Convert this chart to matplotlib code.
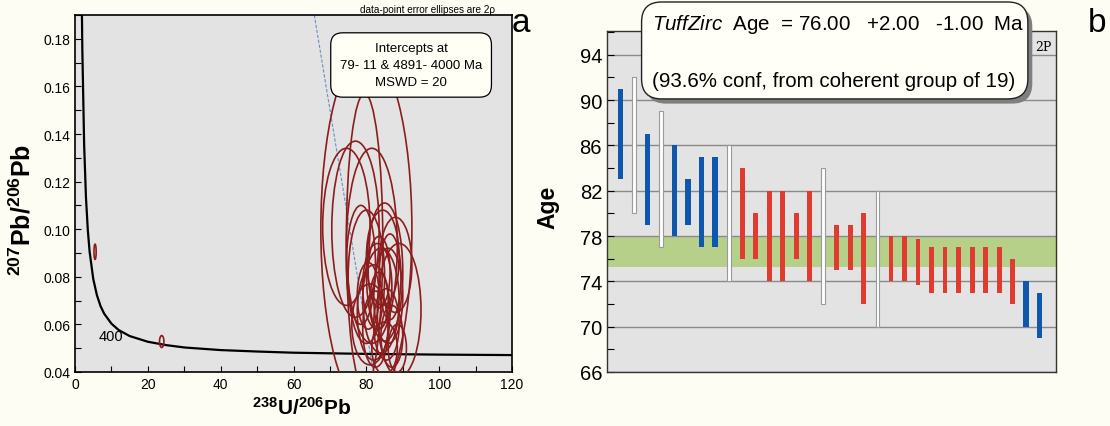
import numpy as np
import matplotlib
matplotlib.use('Agg')
from matplotlib import pyplot as plt
from matplotlib.patches import Ellipse, FancyBboxPatch
from matplotlib.ticker import MultipleLocator, FormatStrFormatter

plt.rcParams['font.family'] = ['Liberation Sans', 'DejaVu Sans']
plt.rcParams['mathtext.fontset'] = 'custom'
plt.rcParams['mathtext.rm'] = 'Liberation Sans'
plt.rcParams['mathtext.it'] = 'Liberation Sans:italic'
plt.rcParams['mathtext.bf'] = 'Liberation Sans:bold'

# ---- panel a: Tera-Wasserburg data ----
conc_x = [1.7, 1.8, 2, 2.5, 3, 3.5, 4, 5, 6, 7, 8, 10, 12, 15, 20, 25, 30, 40, 50, 60, 80, 100, 120]
conc_y = [0.220, 0.2027, 0.1758, 0.1354, 0.1134, 0.0998, 0.0906, 0.0791, 0.0723, 0.0677, 0.0645,
          0.0603, 0.0576, 0.0551, 0.0527, 0.0513, 0.0503, 0.0492, 0.0486, 0.0481, 0.0476, 0.0473, 0.0471]

disc_x = [65.7, 81.9]
disc_y = [0.19, 0.04]

# ellipse centres and half-axes
ell_x = [80, 79.5, 74.5, 77, 81.5, 80, 85, 89, 83, 84, 86, 82, 85.5, 87, 83.5, 81,
         78.5, 84.5, 86.5, 88, 82.5, 85, 88.5, 83.5, 80.5, 5.5, 23.8]
ell_y = [0.100, 0.095, 0.101, 0.100, 0.093, 0.080, 0.082, 0.066, 0.076, 0.070, 0.072, 0.065,
         0.060, 0.055, 0.082, 0.060, 0.085, 0.088, 0.080, 0.085, 0.058, 0.050, 0.050, 0.070,
         0.072, 0.0905, 0.0528]
ell_a = [12.5, 5, 6.5, 6.5, 7, 5, 5, 6, 4, 5, 4, 4.5, 3.5, 3, 3, 5, 4, 4.5, 3, 4.5, 3.5,
         3.5, 2.5, 2.5, 3, 0.3, 0.6]
ell_b = [0.075, 0.062, 0.033, 0.037, 0.041, 0.028, 0.029, 0.028, 0.018, 0.022, 0.020, 0.020,
         0.015, 0.013, 0.015, 0.017, 0.025, 0.020, 0.018, 0.020, 0.016, 0.011, 0.010, 0.012,
         0.014, 0.0032, 0.0025]

# ---- panel b: TuffZirc ages ----
age_lo = [83, 80, 79, 77, 78, 79, 77, 77, 74, 76, 76, 74, 74, 76, 74, 72, 75, 75, 72, 70,
          74, 74, 73.7, 73, 73, 73, 73, 73, 73, 72, 70, 69]
age_hi = [91, 92, 87, 89, 86, 83, 85, 85, 86, 84, 80, 82, 82, 80, 82, 84, 79, 79, 80, 82,
          78, 78, 77.7, 77, 77, 77, 77, 77, 77, 76, 74, 73]
age_kind = ['blue', 'white', 'blue', 'white', 'blue', 'blue', 'blue', 'blue', 'white',
            'red', 'red', 'red', 'red', 'red', 'red', 'white', 'red', 'red', 'red', 'white',
            'red', 'red', 'red', 'red', 'red', 'red', 'red', 'red', 'red', 'red', 'blue', 'blue']
band_lo, band_hi = 75.3, 78.0

bg = '#fdfdf3'
face = '#e3e3e3'
ell_col = '#8b1d1d'

fig = plt.figure(figsize=(11.1, 4.27), dpi=100, facecolor=bg)

# ================= panel a =================
ax1 = fig.add_axes([0.0676, 0.1265, 0.3937, 0.836])
ax1.set_facecolor(face)
ax1.plot(conc_x, conc_y, color='black', lw=1.6, zorder=3)
ax1.plot(disc_x, disc_y, color='#6b8fc9', lw=0.8, ls=(0, (3, 1.5)), zorder=2)
for x, y, a, b in zip(ell_x, ell_y, ell_a, ell_b):
    ax1.add_patch(Ellipse((x, y), 2 * a, 2 * b, fill=False, ec=ell_col, lw=1.2, zorder=4))
ax1.text(13.3, 0.0553, '400', ha='right', va='center', fontsize=10.5, zorder=5)
ax1.text(0.769, 0.86, 'Intercepts at\n79- 11 & 4891- 4000 Ma\nMSWD = 20', transform=ax1.transAxes,
         ha='center', va='center', fontsize=9.5, linespacing=1.55, zorder=10,
         bbox=dict(boxstyle='round,pad=0.7,rounding_size=0.9', fc='#fffff6', ec='black', lw=0.9))
ax1.set_xlim(0, 120)
ax1.set_ylim(0.04, 0.19)
ax1.xaxis.set_major_locator(MultipleLocator(20))
ax1.xaxis.set_minor_locator(MultipleLocator(10))
ax1.yaxis.set_major_locator(MultipleLocator(0.02))
ax1.yaxis.set_minor_locator(MultipleLocator(0.01))
ax1.yaxis.set_major_formatter(FormatStrFormatter('%.2f'))
ax1.tick_params(which='both', direction='in', labelsize=10, length=4, width=0.8)
for s in ax1.spines.values():
    s.set_linewidth(1.2)

fig.text(0.272, 0.045, r'$\mathbf{^{238}U/^{206}Pb}$', ha='center', va='center', fontsize=15)
fig.text(0.02, 0.508, r'$\mathbf{^{207}Pb/^{206}Pb}$', ha='center', va='center', fontsize=18, rotation=90)
fig.text(0.446, 0.976, 'data-point error ellipses are 2\u03c1', ha='right', va='center', fontsize=7.2)
fig.text(0.469, 0.944, 'a', ha='center', va='center', fontsize=24)

# ================= panel b =================
ax2 = fig.add_axes([0.5468, 0.1265, 0.4045, 0.7986])
ax2.set_facecolor(face)
ax2.axhspan(band_lo, band_hi, color='#b6d08a', lw=0, zorder=0.5)
ax2.set_yticks(np.arange(66, 95, 4))
ax2.yaxis.set_minor_locator(MultipleLocator(2))
ax2.grid(axis='y', which='major', color='#8a8a8a', lw=1.0, zorder=1)
ax2.set_axisbelow(True)

pos = np.arange(1, len(age_lo) + 1)
lo = np.array(age_lo)
hi = np.array(age_hi)
kinds = np.array(age_kind)
m = kinds == 'blue'
ax2.bar(pos[m], hi[m] - lo[m], bottom=lo[m], width=0.4, color='#0f57ad', zorder=3)
m = kinds == 'red'
ax2.bar(pos[m], hi[m] - lo[m], bottom=lo[m], width=0.36, color='#df3b2f', zorder=3)
m = kinds == 'white'
ax2.bar(pos[m], hi[m] - lo[m], bottom=lo[m], width=0.28, color='white', edgecolor='#9a9a9a',
        lw=0.8, zorder=3)

ax2.set_xlim(0, 33.2)
ax2.set_ylim(66, 96.1)
ax2.set_xticks([])
ax2.tick_params(axis='y', which='both', direction='in', labelsize=14.5, length=5, width=0.8)
for s in ax2.spines.values():
    s.set_linewidth(1.0)
    s.set_color('#333333')
ax2.text(0.99, 0.955, '2P', transform=ax2.transAxes, ha='right', va='center',
         fontsize=9, family='DejaVu Serif')

fig.text(0.4937, 0.515, 'Age', ha='center', va='center', fontsize=16.5, fontweight='bold', rotation=90)
fig.text(0.988, 0.944, 'b', ha='center', va='center', fontsize=24)

# TuffZirc result box with shadow
bx0, by0, bw, bh = 0.578, 0.766, 0.348, 0.227
sh = FancyBboxPatch((bx0 + 0.004, by0 - 0.011), bw, bh, transform=fig.transFigure,
                    boxstyle='round,pad=0,rounding_size=0.018', mutation_aspect=1110 / 427,
                    fc='#7f7f7f', ec='none', zorder=20)
box = FancyBboxPatch((bx0, by0), bw, bh, transform=fig.transFigure,
                     boxstyle='round,pad=0,rounding_size=0.018', mutation_aspect=1110 / 427,
                     fc='#fffff8', ec='#222222', lw=1.0, zorder=21)
fig.patches.extend([sh, box])
fig.text(0.587, 0.942, r'$\mathit{TuffZirc}$  Age  = 76.00   +2.00   -1.00  Ma', ha='left', va='center',
         fontsize=14.8, zorder=22)
fig.text(0.587, 0.808, '(93.6% conf, from coherent group of 19)', ha='left', va='center',
         fontsize=14.8, zorder=22)

plt.savefig('out.png', dpi=100, facecolor=bg)
